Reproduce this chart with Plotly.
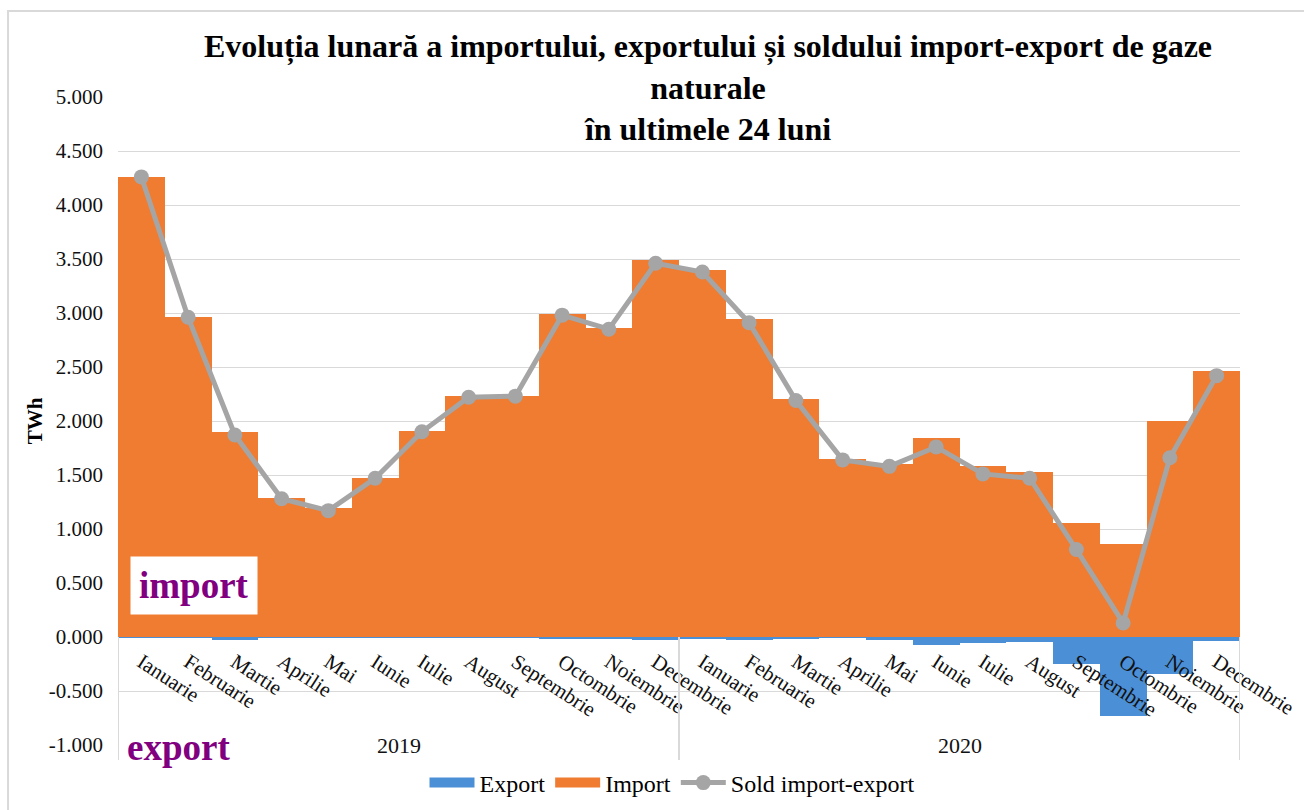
import plotly.graph_objects as go

months = ["Ianuarie", "Februarie", "Martie", "Aprilie", "Mai", "Iunie", "Iulie",
          "August", "Septembrie", "Octombrie", "Noiembrie", "Decembrie"] * 2
years = ["2019", "2020"]

import_vals = [4.26, 2.96, 1.90, 1.29, 1.19, 1.47, 1.91, 2.23, 2.23, 2.99, 2.86, 3.49,
               3.40, 2.94, 2.20, 1.65, 1.60, 1.84, 1.58, 1.53, 1.06, 0.86, 2.00, 2.46]
export_vals = [-0.005, -0.005, -0.03, -0.005, -0.005, -0.005, -0.005, -0.005, -0.005, -0.01, -0.01, -0.03,
               -0.02, -0.03, -0.01, -0.005, -0.03, -0.07, -0.06, -0.05, -0.25, -0.73, -0.34, -0.04]
sold_vals = [4.26, 2.96, 1.87, 1.28, 1.17, 1.47, 1.90, 2.22, 2.23, 2.98, 2.85, 3.46,
             3.38, 2.91, 2.19, 1.64, 1.58, 1.76, 1.51, 1.47, 0.81, 0.13, 1.66, 2.42]

ytick_vals = [5, 4.5, 4, 3.5, 3, 2.5, 2, 1.5, 1, 0.5, 0, -0.5, -1]
ytick_text = ["5.000", "4.500", "4.000", "3.500", "3.000", "2.500", "2.000",
              "1.500", "1.000", "0.500", "0.000", "-0.500", "-1.000"]

x = list(range(len(months)))
FONT = "Liberation Serif"
C_EXP = "#4B8FD6"
C_IMP = "#EF7C30"

fig = go.Figure()
fig.add_trace(go.Bar(x=x, y=export_vals, name="Export", marker=dict(color=C_EXP, line_width=0),
                     legendgroup="exp", showlegend=False))
fig.add_trace(go.Bar(x=x, y=import_vals, name="Import", marker=dict(color=C_IMP, line_width=0),
                     legendgroup="imp", showlegend=False))
# legend entries with wide swatches (bars are toggled through their legend group)
fig.add_trace(go.Scatter(x=[None], y=[None], name="Export", mode="lines", legendgroup="exp",
                         line=dict(color=C_EXP, width=12)))
fig.add_trace(go.Scatter(x=[None], y=[None], name="Import", mode="lines", legendgroup="imp",
                         line=dict(color=C_IMP, width=12)))
fig.add_trace(go.Scatter(x=x, y=sold_vals, name="Sold import-export", mode="lines+markers",
                         line=dict(color="#A5A5A5", width=5),
                         marker=dict(color="#A5A5A5", size=15)))

# year group labels and separators
n_per_year = 12
for i, yr in enumerate(years):
    fig.add_annotation(x=i * n_per_year + (n_per_year - 1) / 2, y=0, xref="x", yref="paper",
                       text=yr, showarrow=False, font=dict(family=FONT, size=22, color="#111"),
                       bgcolor="white", yanchor="middle")
for xv in [-0.5, 11.5, 23.5]:
    fig.add_shape(type="line", xref="x", yref="paper", x0=xv, x1=xv, y0=1/6, y1=-0.023,
                  line=dict(color="#D9D9D9", width=2))

# chart border
fig.add_shape(type="rect", xref="paper", yref="paper", x0=-0.098, x1=1.07, y0=-0.12, y1=1.1327,
              line=dict(color="#D9D9D9", width=2), layer="below")

fig.add_annotation(x=(130 - 118) / 1122, y=(745 - 585) / 648, xref="paper", yref="paper", text="<b>import</b>",
                   showarrow=False, xanchor="left", yanchor="middle", bgcolor="white",
                   font=dict(family=FONT, size=37, color="#800080"), borderpad=8)
fig.add_annotation(x=(122 - 118) / 1122, y=(745 - 748) / 648, xref="paper", yref="paper", text="<b>export</b>",
                   showarrow=False, xanchor="left", yanchor="middle", bgcolor="white",
                   font=dict(family=FONT, size=37, color="#800080"), borderpad=4)

fig.update_layout(
    width=1304, height=810,
    margin=dict(l=118, r=64, t=97, b=65, autoexpand=False),
    paper_bgcolor="white", plot_bgcolor="white",
    barmode="relative", bargap=0,
    title=dict(text="<b>Evoluția lunară a importului, exportului și soldului import-export de gaze<br>naturale<br>în ultimele 24 luni</b>",
               x=708 / 1304, xanchor="center", y=1 - 57 / 810, yanchor="middle", yref="container",
               font=dict(family=FONT, size=32, color="black")),
    font=dict(family=FONT, color="black"),
    legend=dict(orientation="h", x=672 / 1304, xref="container", xanchor="center", y=(810 - 783) / 810,
                yref="container", yanchor="middle", font=dict(family=FONT, size=24), itemwidth=45,
                traceorder="normal"),
    showlegend=True,
)
fig.update_xaxes(range=[-0.5, 23.5], tickmode="array", tickvals=x, ticktext=months, tickangle=33,
                 anchor="free", position=1/6, showgrid=False, showline=False, ticks="",
                 tickfont=dict(family=FONT, size=21, color="#111"), ticklabelstandoff=8,
                 fixedrange=True)
fig.update_yaxes(range=[-1, 5], tickmode="array", tickvals=ytick_vals, ticktext=ytick_text,
                 showgrid=True, gridcolor="#D9D9D9", gridwidth=1.3, zeroline=True, zerolinecolor="#C8C8C8",
                 zerolinewidth=2, tickfont=dict(family=FONT, size=21, color="#111"),
                 title=dict(text="<b>TWh</b>", font=dict(family=FONT, size=21), standoff=0),
                 ticklabelstandoff=14)

fig.write_html("out.html", post_script="document.body.style.margin='0';",
               config={"displayModeBar": False})
